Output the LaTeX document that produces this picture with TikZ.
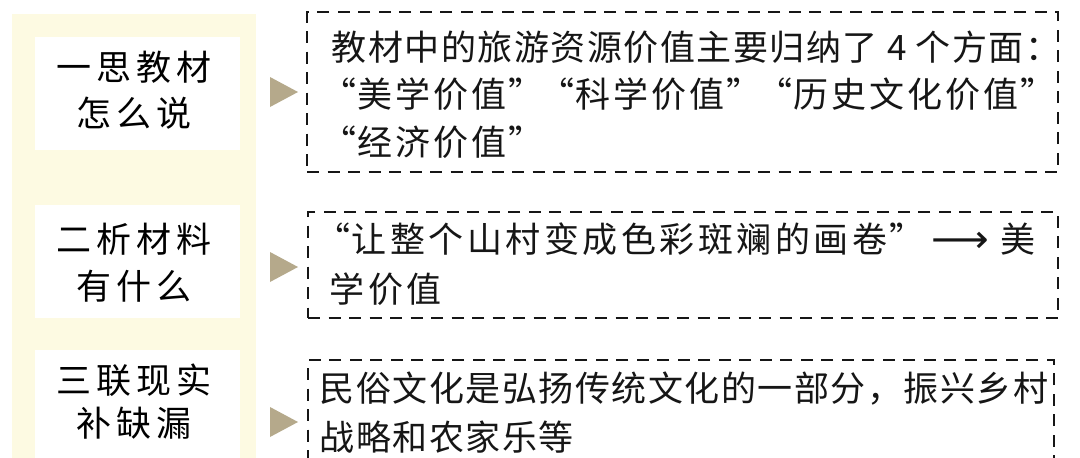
\documentclass[tikz,border=0pt]{standalone}
\usepackage{fontspec}
\usepackage{graphicx}
\setmainfont{Noto Sans CJK SC}
\newfontfamily\arrowfont{DejaVu Sans}
\definecolor{cream}{RGB}{253,250,226}
\definecolor{tancol}{RGB}{181,169,139}
\definecolor{inkcol}{RGB}{22,22,22}
\newlength\cellw
\newlength\qw
\setlength\qw{33pt}
\newcommand\OpQ{\makebox[\qw][r]{“}}
\newcommand\ClQ{\makebox[\qw][l]{”}}
\newcommand\crow[2]{\setlength\cellw{#1}\crowloop#2\relax}
\def\crowloop#1{\ifx\relax#1\else\ifx\OpQ#1\OpQ\else\ifx\ClQ#1\ClQ\else\makebox[\cellw][c]{#1}\fi\fi\expandafter\crowloop\fi}
\begin{document}
\begin{tikzpicture}[x=1pt,y=-1pt,
  leftbox/.style={rectangle,fill=white,draw=none,minimum width=205pt,inner sep=0pt},
  dashbox/.style={rectangle,draw=inkcol,line width=1.4pt,dash pattern=on 12pt off 8.5pt,inner sep=0pt},
  lefttxt/.style={inner sep=0pt,font=\fontsize{35pt}{40pt}\selectfont,text=black},
  righttxt/.style={inner sep=0pt,anchor=west,font=\fontsize{35pt}{40pt}\selectfont,text=inkcol},
  tri/.style={fill=tancol}]
\clip (0,0) rectangle (1080,458);
\fill[white] (0,0) rectangle (1080,458);
\fill[cream] (12,14) rectangle (256,480);
% left white boxes
\node[leftbox,minimum height=113pt] (L1) at (137.5,93.5) {};
\node[leftbox,minimum height=113pt] (L2) at (137.5,261.5) {};
\node[leftbox,minimum height=140pt] (L3) at (137.5,420) {};
\node[lefttxt] (L1a) at (134,67) {\crow{40pt}{一思教材}};
\node[lefttxt] (L1b) at (134,113) {\crow{40pt}{怎么说}};
\node[lefttxt] (L2a) at (134,239) {\crow{40pt}{二析材料}};
\node[lefttxt] (L2b) at (134,286) {\crow{40pt}{有什么}};
\node[lefttxt] (L3a) at (134,380) {\crow{40pt}{三联现实}};
\node[lefttxt] (L3b) at (134,423) {\crow{40pt}{补缺漏}};
% triangles
\fill[tri] (270,77) -- (298,92) -- (270,107) -- cycle;
\fill[tri] (270,252) -- (298,267) -- (270,282) -- cycle;
\fill[tri] (270,407) -- (298,422) -- (270,437) -- cycle;
% dashed boxes
\node[dashbox,minimum width=751pt,minimum height=160pt] (R1) at (682.5,92) {};
\node[dashbox,minimum width=750pt,minimum height=106pt] (R2) at (683,265) {};
\node[dashbox,minimum width=746pt,minimum height=140pt] (R3) at (681,430) {};
% right texts
\node[righttxt] (R1a) at (331,47) {\crow{36.5pt}{教材中的旅游资源价值主要归纳了4个方面：}};
\node[righttxt] (R1b) at (323,94) {\crow{38pt}{\OpQ 美学价值\ClQ\OpQ 科学价值\ClQ\OpQ 历史文化价值\ClQ}};
\node[righttxt] (R1c) at (323,142) {\crow{38pt}{\OpQ 经济价值\ClQ}};
\node[righttxt] (R2a) at (317,239) {\crow{38.5pt}{\OpQ 让整个山村变成色彩斑斓的画卷\ClQ}\makebox[2\cellw][c]{\arrowfont\scalebox{1.15}[1.1]{⟶}}\makebox[\cellw][c]{美}};
\node[righttxt] (R2b) at (328,289) {\crow{38.5pt}{学价值}};
\node[righttxt] (R3a) at (319,389) {\crow{36.5pt}{民俗文化是弘扬传统文化的一部分，振兴乡村}};
\node[righttxt] (R3b) at (319,437) {\crow{36.5pt}{战略和农家乐等}};
\end{tikzpicture}
\end{document}
